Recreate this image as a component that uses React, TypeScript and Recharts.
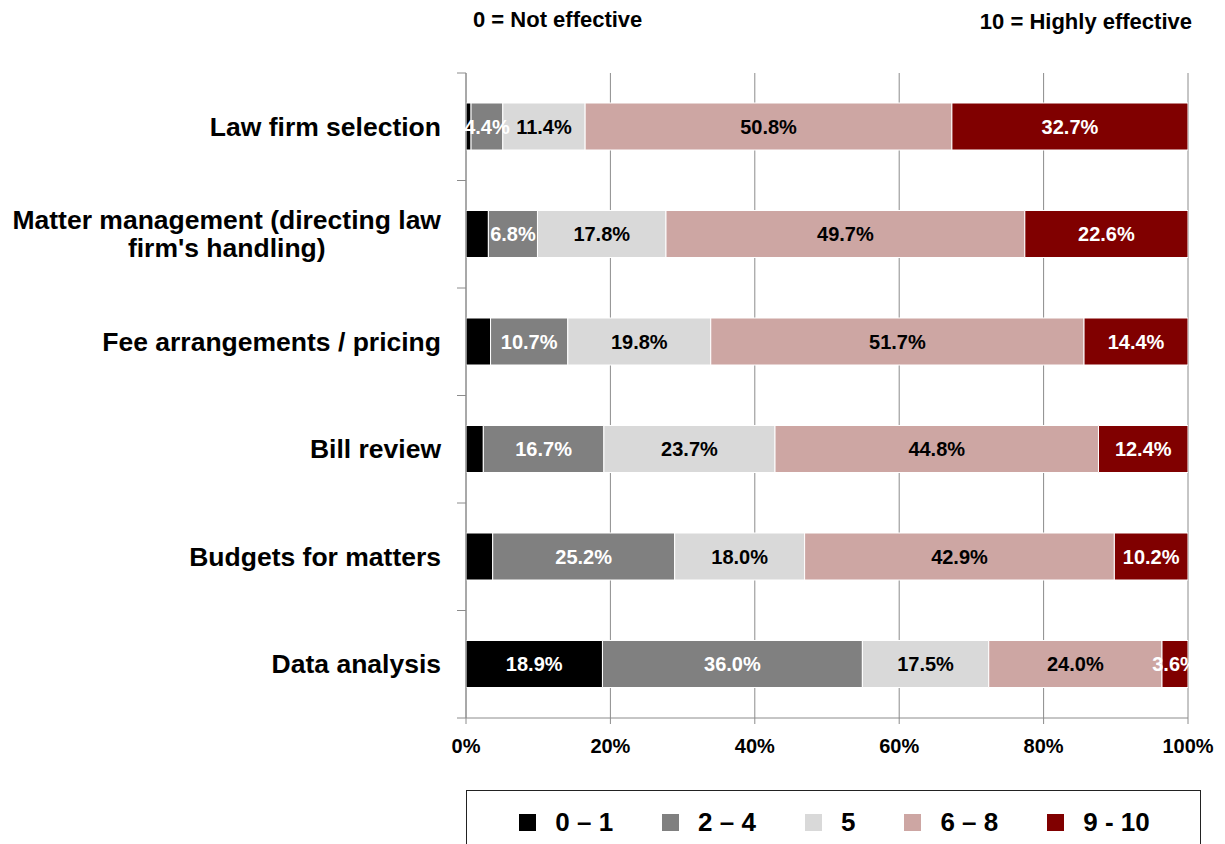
import React from 'react';
import { BarChart, Bar, XAxis, YAxis, CartesianGrid, LabelList } from 'recharts';

const categories = [
    'Law firm selection',
    "Matter management (directing law firm's handling)",
    'Fee arrangements / pricing',
    'Bill review',
    'Budgets for matters',
    'Data analysis',
];

const share01 = [0.7, 3.1, 3.4, 2.4, 3.7, 18.9];
const share24 = [4.4, 6.8, 10.7, 16.7, 25.2, 36.0];
const share5 = [11.4, 17.8, 19.8, 23.7, 18.0, 17.5];
const share68 = [50.8, 49.7, 51.7, 44.8, 42.9, 24.0];
const share910 = [32.7, 22.6, 14.4, 12.4, 10.2, 3.6];

const xTicks = [0, 20, 40, 60, 80, 100];

const seriesNames = ['0 – 1', '2 – 4', '5', '6 – 8', '9 - 10'];

const W = 1209
const H = 828
const margin = { top: 65, right: 29, left: 0, bottom: 78 }
const xAxisHeight = 40
const FONT = "'Liberation Sans', Arial, sans-serif"
const GRID = '#8c8c8c'

const series = [
    { key: 's01', name: seriesNames[0], fill: '#000000', text: '#ffffff', minShow: 5 },
    { key: 's24', name: seriesNames[1], fill: '#808080', text: '#ffffff', minShow: 0 },
    { key: 's5', name: seriesNames[2], fill: '#d9d9d9', text: '#000000', minShow: 0 },
    { key: 's68', name: seriesNames[3], fill: '#cda6a3', text: '#000000', minShow: 0 },
    { key: 's910', name: seriesNames[4], fill: '#800000', text: '#ffffff', minShow: 0 },
]

const rows = categories.map((name, i) => ({
    name,
    s01: share01[i],
    s24: share24[i],
    s5: share5[i],
    s68: share68[i],
    s910: share910[i],
}))

const CAT_SIZE = 26.5
const labelFont = `bold ${CAT_SIZE}px ${FONT}`
let canvasCtx: CanvasRenderingContext2D | null = null
function measure(text: string) {
    if (!canvasCtx) canvasCtx = document.createElement('canvas').getContext('2d')
    if (!canvasCtx) return text.length * 14
    canvasCtx.font = labelFont
    return canvasCtx.measureText(text).width
}

function wrap(text: string, maxChars: number) {
    const lines: string[] = []
    let cur = ''
    text.split(' ').forEach(w => {
        const next = cur ? cur + ' ' + w : w
        if (next.length > maxChars && cur) {
            lines.push(cur)
            cur = w
        } else cur = next
    })
    if (cur) lines.push(cur)
    return lines
}

const CategoryTick = (props: any) => {
    const { x, y, payload, index } = props
    const lines = wrap(payload.value, 32)
    const maxW = Math.max(...lines.map(measure))
    const cx = x - maxW / 2
    const lineH = 28
    const band = (H - margin.top - margin.bottom - xAxisHeight) / categories.length
    const axisX = x + 16 + 9
    return (
        <g>
            <line x1={axisX - 9} x2={axisX} y1={y - band / 2} y2={y - band / 2} stroke={GRID} />
            {index === categories.length - 1 &&
                <line x1={axisX - 9} x2={axisX} y1={y + band / 2} y2={y + band / 2} stroke={GRID} />}
            {lines.map((l, i) => (
                <text key={i} x={cx} y={y + (i - (lines.length - 1) / 2) * lineH} textAnchor='middle'
                    dominantBaseline='central' fontFamily={FONT} fontWeight='bold' fontSize={CAT_SIZE} fill='#000'>
                    {l}
                </text>
            ))}
        </g>
    )
}

const makeLabel = (color: string, minShow: number) => (props: any) => {
    const { x, y, width, height, value } = props
    if (value == null || value < minShow) return null
    return (
        <text x={x + width / 2} y={y + height / 2} textAnchor='middle' dominantBaseline='central'
            fontFamily={FONT} fontWeight='bold' fontSize={20} fill={color}>
            {`${Number(value).toFixed(1)}%`}
        </text>
    )
}

export default function App() {
    return (
        <div style={{ position: 'relative', width: W, height: H, fontFamily: FONT }}>
            <div style={{ position: 'absolute', left: 465, top: 0, fontSize: 22, fontWeight: 'bold', lineHeight: '24px' }}>
                0 = Not effective
            </div>
            <div style={{ position: 'absolute', right: 25, top: 2, fontSize: 22, fontWeight: 'bold', lineHeight: '24px' }}>
                10 = Highly effective
            </div>
            <BarChart width={W} height={H} data={rows} layout='vertical' margin={margin} barSize={47}>
                <CartesianGrid horizontal={false} stroke={GRID} strokeWidth={1} />
                <XAxis type='number' domain={[0, 100]} ticks={xTicks} allowDataOverflow
                    tickFormatter={(v: number) => `${v}%`} height={xAxisHeight}
                    stroke={GRID} tickSize={6} tickMargin={15}
                    tick={{ fill: '#000', fontSize: 20, fontWeight: 'bold', fontFamily: FONT }} />
                <YAxis type='category' dataKey='name' width={458} stroke={GRID} tickLine={false}
                    tickSize={9} tickMargin={16} interval={0} tick={<CategoryTick />} />
                {series.map(s => (
                    <Bar key={s.key} dataKey={s.key} name={s.name} stackId='a' fill={s.fill}
                        stroke='#ffffff' strokeWidth={1} isAnimationActive={false}>
                        <LabelList dataKey={s.key} content={makeLabel(s.text, s.minShow)} />
                    </Bar>
                ))}
            </BarChart>
            <div style={{
                position: 'fixed', left: 466, top: 790, width: 735, height: 90,
                border: '1px solid #222', boxSizing: 'border-box', display: 'flex', background: '#fff',
                justifyContent: 'center', alignItems: 'flex-start', paddingTop: 16, paddingLeft: 2,
            }}>
                {series.map((s, i) => (
                    <div key={s.key} style={{ display: 'flex', alignItems: 'center', marginLeft: i === 0 ? 0 : 49 }}>
                        <div style={{ width: 17, height: 17, background: s.fill, marginRight: 19 }} />
                        <span style={{ fontSize: 26, fontWeight: 'bold', lineHeight: '30px' }}>{s.name}</span>
                    </div>
                ))}
            </div>
        </div>
    )
}
